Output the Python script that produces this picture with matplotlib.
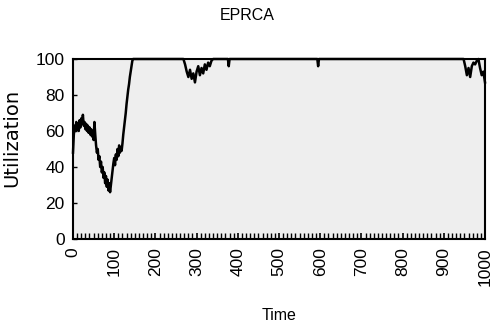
import matplotlib
matplotlib.use("Agg")
import matplotlib.pyplot as plt
from matplotlib.transforms import Bbox, TransformedBbox

plt.rcParams['font.family'] = ['Liberation Sans', 'DejaVu Sans']

title = "EPRCA"
x_label = "Time"
y_label = "Utilization"
x_ticks = [0, 100, 200, 300, 400, 500, 600, 700, 800, 900, 1000]
y_ticks = [0, 20, 40, 60, 80, 100]

time = [0, 2, 4, 6, 8, 10, 12, 14, 16, 18, 20, 22, 24, 26, 28, 30, 32, 34, 36, 38,
        40, 42, 44, 46, 48, 50, 52, 54, 56, 58, 60, 62, 64, 66, 68, 70, 72, 74, 76, 78,
        80, 82, 84, 86, 88, 90, 92, 94, 96, 98, 100, 102, 104, 106, 108, 110, 112, 114,
        116, 118, 120, 122, 124, 126, 128, 130, 132, 134, 136, 138, 140, 142, 144, 146,
        200, 268, 272, 276, 280, 284, 288, 292, 296, 300, 304, 308, 312, 316, 320, 324,
        328, 332, 336, 340, 376, 378, 380, 593, 595, 597, 800, 948, 952, 956, 960, 964,
        968, 972, 976, 980, 984, 988, 992, 996, 1000]
utilization = [48, 58, 63, 60, 65, 61, 64, 60, 66, 62, 67, 64, 69, 63, 65, 61, 64, 60, 63, 59,
               62, 58, 61, 57, 60, 55, 65, 58, 52, 48, 50, 44, 46, 40, 43, 37, 40, 34, 37, 31,
               35, 29, 33, 27, 31, 26, 30, 34, 38, 42, 45, 41, 47, 44, 50, 46, 52, 48,
               51, 49, 53, 58, 62, 66, 70, 75, 79, 83, 86, 90, 93, 96, 99, 100,
               100, 100, 97, 93, 90, 94, 89, 92, 87, 93, 96, 91, 95, 92, 97, 94,
               98, 96, 99, 100, 100, 96, 100, 100, 96, 100, 100, 100, 96, 91, 95, 90,
               96, 98, 97, 99, 100, 95, 91, 93, 87]

fig = plt.figure(figsize=(4.95, 3.25), dpi=100)
ax = fig.add_axes([73/495, 1 - 239/325, 412/495, 180/325])
ax.set_facecolor('#eeeeee')
ax.plot(time, utilization, color='black', linewidth=1.8, clip_on=False, zorder=3)
ax.set_xlim(0, 1000)
ax.set_ylim(0, 100)
ax.set_xticks(x_ticks)
ax.set_xticklabels([str(v) for v in x_ticks], rotation=90, fontsize=12.5)
ax.set_yticks(y_ticks)
ax.set_yticklabels([str(v) for v in y_ticks], fontsize=12.5)
ax.set_xticks(list(range(0, 1001, 10)), minor=True)
ax.tick_params(axis='x', which='major', direction='in', length=4, width=1.2, pad=6)
ax.tick_params(axis='x', which='minor', direction='in', length=4, width=1.0)
ax.tick_params(axis='y', which='major', direction='in', length=3, width=1, pad=6)
for s in ax.spines.values():
    s.set_linewidth(1.5)

fig.text(0.5, 1 - 16/325, title, ha='center', va='center', fontsize=11.5)
ax.set_xlabel(x_label, fontsize=11.5, labelpad=16)
yl = fig.text(12/495, 1 - 187/325, y_label, rotation=90, rotation_mode='anchor',
              ha='left', va='center', fontsize=14, family=['DejaVu Sans'])
yl.set_clip_box(TransformedBbox(Bbox([[0, 0], [0.2, 1 - 93/325]]), fig.transFigure))
yl.set_clip_on(True)

fig.savefig("out.png", dpi=100)
